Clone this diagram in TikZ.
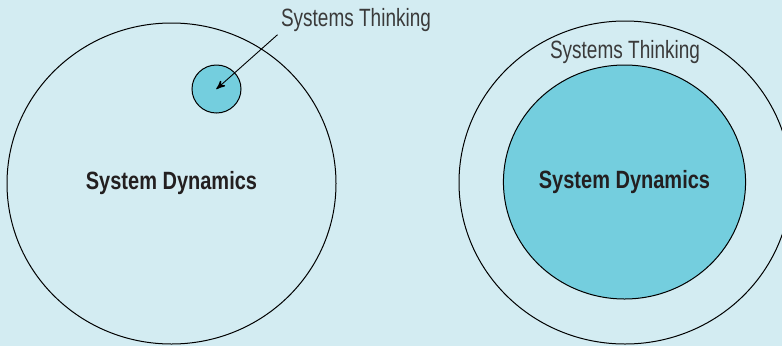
\documentclass[tikz,border=0pt]{standalone}
\usepackage{fontspec}
\setmainfont{Liberation Sans}
\newfontfamily\thinkfont[FakeStretch=0.76]{Liberation Sans}
\newfontfamily\dynfont[FakeStretch=0.80]{Liberation Sans Bold}
\usetikzlibrary{arrows}
\usetikzlibrary{decorations.markings}
\usetikzlibrary{shapes.geometric}
\definecolor{paper}{RGB}{211,236,242}
\definecolor{cyanfill}{RGB}{116,206,222}
\definecolor{inkgray}{RGB}{58,58,58}
\definecolor{inkdark}{RGB}{35,31,32}
\tikzset{->/.style = {decoration={markings,
                                  mark=at position 1 with {\arrow[scale=1.6]{stealth'}}},
                      postaction={decorate}}}
\tikzset{ring/.style = {draw, ellipse, line width=1pt, inner sep=0pt},
         thinking/.style = {font=\thinkfont\fontsize{25}{30}\selectfont, text=inkgray},
         dynamics/.style = {font=\dynfont\fontsize{25}{30}\selectfont, text=inkdark}}

\begin{document}
\begin{tikzpicture}[x=1pt, y=-1pt]
      \useasboundingbox (0, 0) rectangle (782, 346);
      \clip (0, 0) rectangle (782, 346);
      \fill [paper] (0, 0) rectangle (782, 346);
      % left: systems thinking as a small part of system dynamics
      \node [ring, dynamics, minimum width=329, minimum height=321] (sdleft) at (171.5, 183.5) {System Dynamics};
      \node [ring, fill=cyanfill, minimum width=49, minimum height=48] (stsmall) at (216.5, 89) {};
      \node [thinking, anchor=base] (stleft) at (356, 26) {Systems Thinking};
      \draw [->, line width=0.9pt] (stleft.south west) -- (stsmall.center);
      % right: system dynamics inside systems thinking
      \node [ring, minimum width=332, minimum height=323] (stright) at (625, 182.5) {};
      \node [ring, dynamics, fill=cyanfill, minimum width=241, minimum height=234] (sdright) at (624.5, 182) {System Dynamics};
      \node [thinking, anchor=base] (stlabel) at (625, 58) {Systems Thinking};
    \end{tikzpicture}
\end{document}
